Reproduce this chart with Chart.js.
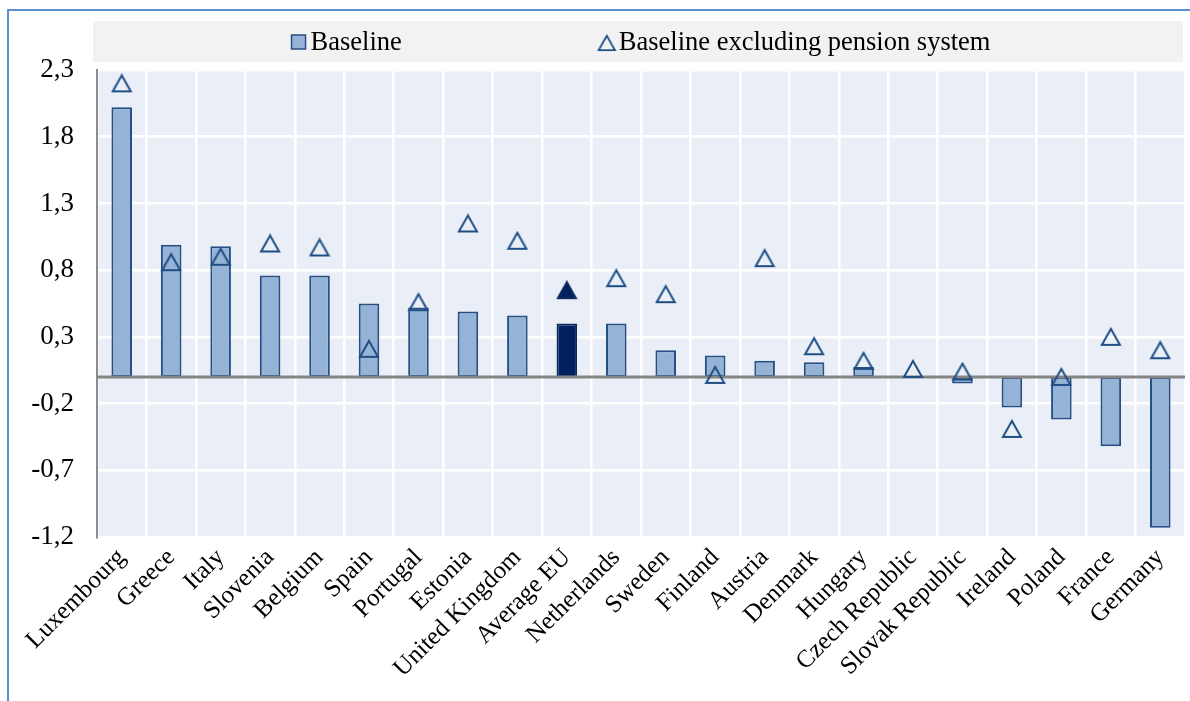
<!DOCTYPE html>
<html lang="en">

<head>
    <meta charset="UTF-8">
    <title>Baseline vs baseline excluding pension system</title>
    <script src="https://cdn.jsdelivr.net/npm/chart.js"></script>
    <style>
        body { margin: 0; background: #fff; }
        .frame { position: absolute; left: 7px; top: 9px; right: 0; bottom: 0;
                 border-left: 2px solid #5b8fd3; border-top: 2px solid #5b8fd3; }
        #wrap { position: absolute; left: 0; top: 0; width: 1190px; height: 701px; }
    </style>
</head>

<body>
    <div class="frame"></div>
    <div id="wrap"><canvas id="chart"></canvas></div>

    <script>
        // data
        const categories = ['Luxembourg', 'Greece', 'Italy', 'Slovenia', 'Belgium', 'Spain', 'Portugal',
            'Estonia', 'United Kingdom', 'Average EU', 'Netherlands', 'Sweden', 'Finland', 'Austria',
            'Denmark', 'Hungary', 'Czech Republic', 'Slovak Republic', 'Ireland', 'Poland', 'France', 'Germany'];
        const baseline = [2.02, 0.99, 0.98, 0.76, 0.76, 0.55, 0.52, 0.49, 0.46, 0.40, 0.40, 0.20,
            0.16, 0.12, 0.11, 0.075, 0.004, -0.05, -0.23, -0.32, -0.52, -1.13];
        const excludingPension = [2.20, 0.86, 0.90, 1.00, 0.97, 0.21, 0.56, 1.15, 1.02, 0.65, 0.74, 0.62,
            0.015, 0.89, 0.23, 0.12, 0.06, 0.04, -0.39, 0.0, 0.30, 0.20];
        const yTicks = [-1.2, -0.7, -0.2, 0.3, 0.8, 1.3, 1.8, 2.3];
        const highlight = 'Average EU';

        const FONT = '"Liberation Serif", "Times New Roman", serif';
        const BAR_FILL = '#95b3d7', BAR_LINE = '#264f85';
        const AVG_FILL = '#002060';

        // triangle marker drawn centred on its bounding box (Excel style)
        function triangle(fill, stroke) {
            const c = document.createElement('canvas');
            c.width = 22; c.height = 20;
            const g = c.getContext('2d');
            g.beginPath();
            g.moveTo(2, 18); g.lineTo(11, 2); g.lineTo(20, 18); g.closePath();
            if (fill) { g.fillStyle = fill; g.fill(); }
            g.lineWidth = 2; g.strokeStyle = stroke; g.stroke();
            return c;
        }
        const triHollow = triangle(null, '#1f4e85');
        const triFilled = triangle(AVG_FILL, '#0d2a5e');

        const plotBackground = {
            id: 'plotBackground',
            beforeDraw(chart) {
                const { ctx, chartArea: a } = chart;
                ctx.save();
                ctx.fillStyle = '#eaeff7';
                ctx.fillRect(a.left, a.top, a.right - a.left, a.bottom - a.top);
                // legend strip
                ctx.fillStyle = '#f2f2f2';
                ctx.fillRect(a.left - 4, a.top - 49, a.right - a.left + 2, 41);
                ctx.restore();
            },
            afterDatasetDraw(chart, args) {
                if (args.meta.type !== 'bar') return;
                const { ctx, chartArea: a } = chart;
                const y0 = chart.scales.y.getPixelForValue(0);
                ctx.save();
                ctx.strokeStyle = '#858585';
                ctx.lineWidth = 3;
                ctx.beginPath();
                ctx.moveTo(a.left, y0); ctx.lineTo(a.right, y0);
                ctx.stroke();
                ctx.restore();
            },
            afterDraw(chart) {
                // legend: square for the bars, triangle for the markers
                const { ctx, chartArea: a } = chart;
                const ds = chart.data.datasets;
                ctx.save();
                ctx.font = '26.5px ' + FONT;
                ctx.textBaseline = 'middle';
                const t1 = ctx.measureText(ds[0].label).width;
                const t2 = ctx.measureText(ds[1].label).width;
                const gap = 197;
                const total = 19 + t1 + gap + 20 + t2;
                let x = (a.left + a.right) / 2 - total / 2;
                const cy = a.top - 28;
                ctx.fillStyle = BAR_FILL;
                ctx.fillRect(x, cy - 7, 14, 14);
                ctx.strokeStyle = BAR_LINE; ctx.lineWidth = 1.5;
                ctx.strokeRect(x, cy - 7, 14, 14);
                ctx.fillStyle = '#000';
                ctx.fillText(ds[0].label, x + 19, cy + 1);
                x += 19 + t1 + gap;
                ctx.drawImage(triHollow, x - 2, cy - 8, 20, 18);
                ctx.fillText(ds[1].label, x + 20, cy + 1);
                ctx.restore();
            }
        };

        const ctx = document.getElementById('chart').getContext('2d');
        new Chart(ctx, {
            type: 'bar',
            data: {
                labels: categories,
                datasets: [{
                    label: 'Baseline',
                    data: baseline,
                    backgroundColor: categories.map(c => c === highlight ? AVG_FILL : BAR_FILL),
                    borderColor: categories.map(c => c === highlight ? '#0d2a5e' : BAR_LINE),
                    borderWidth: 2,
                    borderSkipped: false,
                    categoryPercentage: 0.8,
                    barPercentage: 0.52,
                    order: 1
                }, {
                    type: 'line',
                    label: 'Baseline excluding pension system',
                    data: excludingPension,
                    showLine: false,
                    pointStyle: categories.map(c => c === highlight ? triFilled : triHollow),
                    pointRadius: 10,
                    order: 0
                }]
            },
            options: {
                responsive: true,
                maintainAspectRatio: false,
                animation: false,
                layout: { autoPadding: false, padding: { left: 10, right: 5, top: 70, bottom: 4 } },
                plugins: {
                    legend: { display: false },
                    tooltip: { enabled: false }
                },
                scales: {
                    x: {
                        grid: { color: '#ffffff', lineWidth: 2.5, drawTicks: false },
                        border: { display: false },
                        ticks: {
                            color: '#000', font: { family: FONT, size: 25 },
                            maxRotation: 45, minRotation: 45, autoSkip: false, padding: 6
                        },
                        afterFit(scale) {
                            scale.height = 160;
                            scale.paddingLeft = 0;
                            scale.paddingRight = 0;
                        }
                    },
                    y: {
                        min: -1.2, max: 2.3,
                        grid: { color: '#ffffff', lineWidth: 2.5, drawTicks: false },
                        border: { display: true, color: '#8c8c8c', width: 2 },
                        ticks: {
                            color: '#000', font: { family: FONT, size: 27 }, padding: 23,
                            callback: v => v.toFixed(1).replace('.', ',')
                        },
                        afterBuildTicks(scale) { scale.ticks = yTicks.map(v => ({ value: v })); },
                        afterFit(scale) { scale.width = 87; }
                    }
                }
            },
            plugins: [plotBackground]
        });
    </script>
</body>

</html>
